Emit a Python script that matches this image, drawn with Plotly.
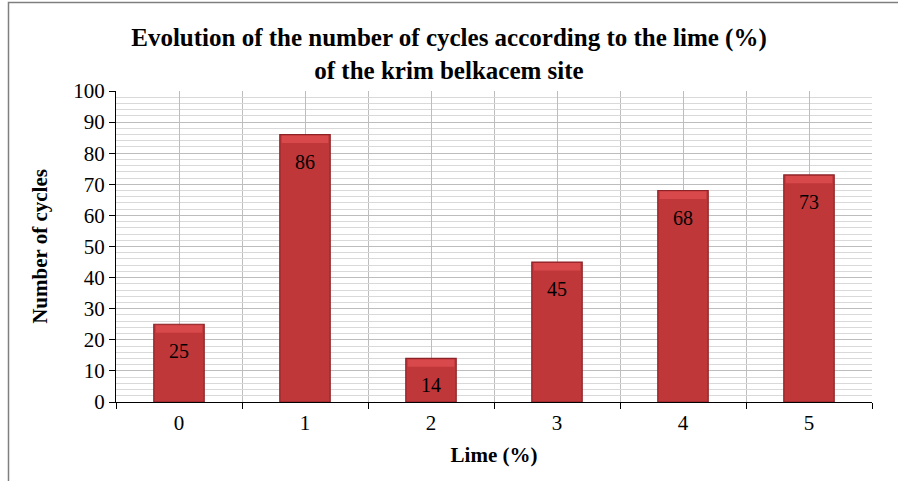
import plotly.graph_objects as go

lime = [0, 1, 2, 3, 4, 5]
cycles = [25, 86, 14, 45, 68, 73]
y_ticks = list(range(0, 101, 10))

FONT = "Liberation Serif"
bevel = [2.4] * len(cycles)

fig = go.Figure()
fig.add_trace(go.Bar(
    x=lime, y=cycles, width=0.4,
    marker=dict(color="#C0373A", line=dict(color="#8A2226", width=1.2)),
    hoverinfo="skip", showlegend=False,
))
# lighter bevel strip at the top of each bar
fig.add_trace(go.Bar(
    x=lime, y=bevel, base=[c - b - 0.3 for c, b in zip(cycles, bevel)], width=0.37,
    marker=dict(color="#D8494B", line=dict(width=0)),
    hoverinfo="skip", showlegend=False,
))

for xv, yv in zip(lime, cycles):
    fig.add_annotation(x=xv, y=yv, text=str(yv), showarrow=False,
                       yanchor="middle", yshift=-27,
                       font=dict(family=FONT, size=20, color="black"))

fig.update_layout(
    width=898, height=481,
    barmode="overlay",
    paper_bgcolor="white", plot_bgcolor="white",
    margin=dict(l=116, r=26, t=91, b=79),
    title=dict(
        text="<b>Evolution of the number of cycles according to the lime (%)<br>of the krim belkacem site</b>",
        x=0.5, xanchor="center", xref="container", y=(481 - 46) / 481, yanchor="middle",
        font=dict(family=FONT, size=25, color="black"),
    ),
    font=dict(family=FONT, color="black"),
    xaxis=dict(
        range=[-0.5, 5.5], tickvals=lime, ticktext=[str(v) for v in lime],
        ticks="", showgrid=True, gridcolor="#BDBDBD", gridwidth=1,
        showline=True, linecolor="black", linewidth=1.2, zeroline=False,
        tickfont=dict(family=FONT, size=21), ticklabelstandoff=2,
        minor=dict(tickvals=[v - 0.5 for v in lime] + [lime[-1] + 0.5],
                   ticks="outside", ticklen=6, tickcolor="black",
                   showgrid=True, gridcolor="#BDBDBD"),
        title=dict(text="<b>Lime (%)</b>", font=dict(family=FONT, size=21), standoff=13),
    ),
    yaxis=dict(
        range=[0, 100], tickvals=y_ticks, ticks="outside", ticklen=6, tickcolor="black",
        showgrid=True, gridcolor="#BDBDBD", gridwidth=1,
        showline=True, linecolor="black", linewidth=1.2, zeroline=False,
        tickfont=dict(family=FONT, size=21),
        minor=dict(dtick=2, showgrid=True, gridcolor="#D9D9D9", ticks=""),
        title=dict(text="<b>Number of cycles</b>", font=dict(family=FONT, size=21), standoff=19),
    ),
)

# chart frame (left and top edges visible)
fig.add_shape(type="rect", xref="paper", yref="paper",
              x0=(8.5 - 116) / 756, x1=(905 - 116) / 756,
              y0=(402 - 490) / 311, y1=(402 - 2.5) / 311,
              line=dict(color="#7F7F7F", width=1.5), fillcolor="rgba(0,0,0,0)",
              layer="below")

fig.write_html("out.html", post_script="document.body.style.margin='0';",
               config={"displayModeBar": False})
